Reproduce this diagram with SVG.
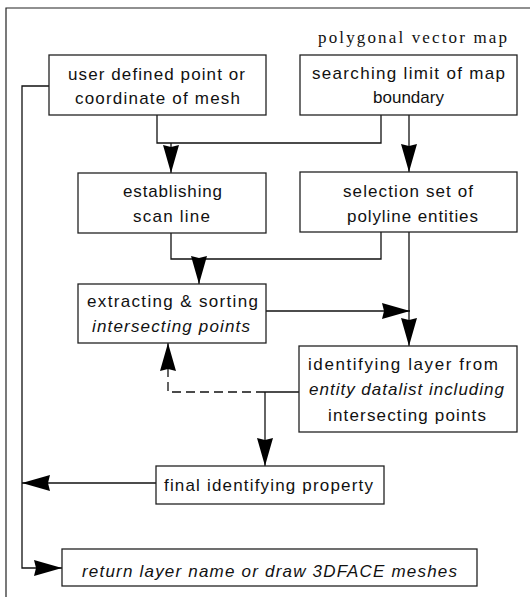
<svg xmlns="http://www.w3.org/2000/svg" width="530" height="597" viewBox="0 0 530 597">
<defs>
<marker id="ah" viewBox="0 0 28 16" refX="28" refY="8" markerWidth="28" markerHeight="16" markerUnits="userSpaceOnUse" orient="auto">
<path d="M0,0 L28,8 L0,16 L2,8 z" fill="#000"/>
</marker>
<style>
.box{fill:#fff;stroke:#222;stroke-width:1.3}
.t{font-family:"Liberation Sans",Arial,sans-serif;font-size:17px;fill:#111}
.i{font-style:italic}
.ln{fill:none;stroke:#111;stroke-width:1.3}
.da{stroke-dasharray:9 5}
.frame{fill:none;stroke:#222;stroke-width:1.2}
</style>
</defs>
<rect width="530" height="597" fill="#fff"/>
<path class="frame" d="M6,597 V8 H530"/>
<text x="318" y="43" textLength="189" lengthAdjust="spacing" style="font-family:'Liberation Serif','Times New Roman',serif;font-size:17px;fill:#111">polygonal vector map</text>

<g id="connectors">
<polyline class="ln" points="157,115 157,143 381,143 381,115"/>
<line class="ln" x1="171" y1="143" x2="171" y2="173" marker-end="url(#ah)"/>
<line class="ln" x1="409" y1="115" x2="409" y2="172" marker-end="url(#ah)"/>
<polyline class="ln" points="171,233 171,259 381,259 381,232"/>
<line class="ln" x1="199" y1="259" x2="199" y2="284" marker-end="url(#ah)"/>
<line class="ln" x1="266" y1="311" x2="410" y2="311" marker-end="url(#ah)"/>
<line class="ln" x1="409" y1="232" x2="409" y2="346" marker-end="url(#ah)"/>
<line class="ln" x1="299" y1="392" x2="265" y2="392"/>
<polyline class="ln da" points="265,392 168,392 168,343" marker-end="url(#ah)"/>
<line class="ln" x1="265" y1="392" x2="265" y2="466" marker-end="url(#ah)"/>
<line class="ln" x1="156" y1="483" x2="22" y2="483" marker-end="url(#ah)"/>
<polyline class="ln" points="49,86 22,86 22,568 62,568" marker-end="url(#ah)"/>
</g>

<g id="n1">
<rect class="box" x="49" y="55" width="217" height="60"/>
<text class="t" x="68" y="80" textLength="177" lengthAdjust="spacing">user defined point or</text>
<text class="t" x="75" y="104" textLength="165" lengthAdjust="spacing">coordinate of mesh</text>
</g>
<g id="n2">
<rect class="box" x="300" y="55" width="217" height="60"/>
<text class="t" x="312" y="79" textLength="193" lengthAdjust="spacing">searching limit of map</text>
<text class="t" x="408.5" y="103" text-anchor="middle">boundary</text>
</g>
<g id="n3">
<rect class="box" x="78" y="173" width="188" height="60"/>
<text class="t" x="123" y="197" textLength="99" lengthAdjust="spacing">establishing</text>
<text class="t" x="133" y="222" textLength="77" lengthAdjust="spacing">scan line</text>
</g>
<g id="n4">
<rect class="box" x="300" y="172" width="217" height="60"/>
<text class="t" x="343" y="197" textLength="130" lengthAdjust="spacing">selection set of</text>
<text class="t" x="347" y="222" textLength="131" lengthAdjust="spacing">polyline entities</text>
</g>
<g id="n5">
<rect class="box" x="78" y="284" width="188" height="59"/>
<text class="t" x="87" y="307" textLength="171" lengthAdjust="spacing">extracting &amp; sorting</text>
<text class="t i" x="92" y="332" textLength="158" lengthAdjust="spacing">intersecting points</text>
</g>
<g id="n6">
<rect class="box" x="299" y="346" width="218" height="86"/>
<text class="t" x="308" y="370" textLength="190" lengthAdjust="spacing">identifying layer from</text>
<text class="t i" x="309" y="395" textLength="195" lengthAdjust="spacing">entity datalist including</text>
<text class="t" x="328" y="421" textLength="158" lengthAdjust="spacing">intersecting points</text>
</g>
<g id="n7">
<rect class="box" x="156" y="466" width="228" height="38"/>
<text class="t" x="164" y="491" textLength="209" lengthAdjust="spacing">final identifying property</text>
</g>
<g id="n8">
<rect class="box" x="62" y="549" width="415" height="37"/>
<text class="t i" x="82" y="577" textLength="375" lengthAdjust="spacing">return layer name or draw 3DFACE meshes</text>
</g>
</svg>
